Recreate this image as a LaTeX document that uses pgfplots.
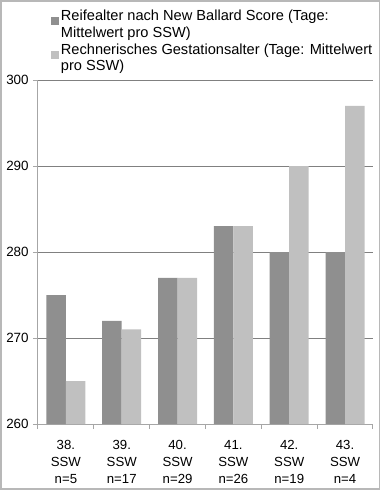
\documentclass[border=0pt]{standalone}
\usepackage{pgfplots}
\pgfplotsset{compat=1.18}
\usepackage{fontspec}
\setmainfont{Liberation Sans}
\definecolor{darkbar}{HTML}{8F8F8F}
\definecolor{lightbar}{HTML}{C0C0C0}
\definecolor{axisgray}{HTML}{A6A6A6}
\definecolor{gridgray}{HTML}{808080}
\definecolor{framegray}{HTML}{B8B8B8}
\begin{document}
\fontsize{12.5}{15}\selectfont
\begin{tikzpicture}
\useasboundingbox (0pt,0pt) rectangle (381pt,490pt);
\draw[framegray, line width=1.5pt] (1pt,1pt) rectangle (379.5pt,489pt);
\begin{axis}[
  at={(38pt,66pt)}, anchor=south west,
  scale only axis, width=335pt, height=344pt,
  ybar=0pt, bar width=19.5pt,
  ymin=260, ymax=300, ytick={260,270,...,300},
  xmin=-0.5, xmax=5.5,
  xtick={-0.5,0.5,...,5.5},
  x tick label as interval,
  xticklabels={{38.\\SSW\\n=5},{39.\\SSW\\n=17},{40.\\SSW\\n=29},{41.\\SSW\\n=26},{42.\\SSW\\n=19},{43.\\SSW\\n=4}},
  xticklabel style={align=center, font=\fontsize{13.2}{17}\selectfont, yshift=-7pt},
  yticklabel style={font=\fontsize{13.4}{15}\selectfont},
  /pgf/number format/assume math mode=true,
  axis x line*=bottom, axis y line*=left,
  axis line style={axisgray, line width=1pt},
  ymajorgrids, grid style={gridgray, line width=0.8pt},
  tick align=outside, major tick length=5pt,
  tick style={axisgray, line width=1pt},
  legend style={at={(axis description cs:0.035,1.212)}, anchor=north west,
    draw=none, fill=none, font=\fontsize{14.6}{16.8}\selectfont,
    cells={align=left, anchor=west}, row sep=0pt, inner sep=1pt},
  legend image code/.code={\fill[#1,draw=none] (0pt,-0.5pt) rectangle (8pt,7.5pt);},
]
\addplot[fill=darkbar, draw=none] coordinates {(0,275)(1,272)(2,277)(3,283)(4,280)(5,280)};
\addlegendentry{Reifealter nach New Ballard Score (Tage:\\Mittelwert pro SSW)}
\addplot[fill=lightbar, draw=none] coordinates {(0,265)(1,271)(2,277)(3,283)(4,290)(5,297)};
\addlegendentry{Rechnerisches Gestationsalter (Tage: Mittelwert\\pro SSW)}
\end{axis}
\end{tikzpicture}
\end{document}
